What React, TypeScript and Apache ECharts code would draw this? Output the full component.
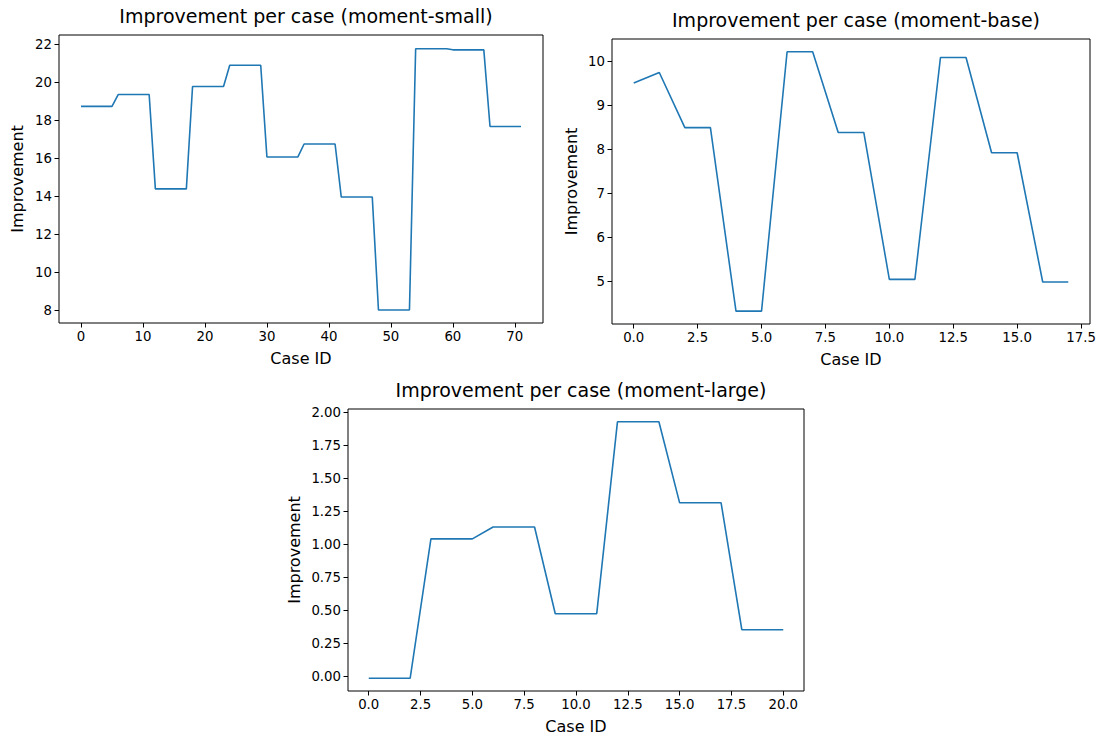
import React, { useEffect, useRef } from "react";
import * as echarts from "echarts";

// ---- Data ----
const smallValues = [
  18.74, 18.74, 18.74, 18.74, 18.74, 18.74,
  19.36, 19.36, 19.36, 19.36, 19.36, 19.36,
  14.4, 14.4, 14.4, 14.4, 14.4, 14.4,
  19.78, 19.78, 19.78, 19.78, 19.78, 19.78,
  20.9, 20.9, 20.9, 20.9, 20.9, 20.9,
  16.08, 16.08, 16.08, 16.08, 16.08, 16.08,
  16.76, 16.76, 16.76, 16.76, 16.76, 16.76,
  13.97, 13.97, 13.97, 13.97, 13.97, 13.97,
  8.03, 8.03, 8.03, 8.03, 8.03, 8.03,
  21.77, 21.77, 21.77, 21.77, 21.77, 21.77,
  21.71, 21.71, 21.71, 21.71, 21.71, 21.71,
  17.68, 17.68, 17.68, 17.68, 17.68, 17.68,
];
const baseValues = [
  9.5, 9.74, 8.49, 8.49, 4.33, 4.33, 10.21, 10.21, 8.38, 8.38,
  5.05, 5.05, 10.08, 10.08, 7.92, 7.92, 4.99, 4.99,
];
const largeValues = [
  -0.014, -0.014, -0.014, 1.04, 1.04, 1.04, 1.13, 1.13, 1.13, 0.474,
  0.474, 0.474, 1.926, 1.926, 1.926, 1.313, 1.313, 1.313, 0.353, 0.353, 0.353,
];

const smallXTicks = [0, 10, 20, 30, 40, 50, 60, 70];
const smallYTicks = [8, 10, 12, 14, 16, 18, 20, 22];
const baseXTicks = [0, 2.5, 5, 7.5, 10, 12.5, 15, 17.5];
const baseYTicks = [5, 6, 7, 8, 9, 10];
const largeXTicks = [0, 2.5, 5, 7.5, 10, 12.5, 15, 17.5, 20];
const largeYTicks = [0, 0.25, 0.5, 0.75, 1, 1.25, 1.5, 1.75, 2];

const titles = [
  "Improvement per case (moment-small)",
  "Improvement per case (moment-base)",
  "Improvement per case (moment-large)",
];

const FONT = "DejaVu Sans";
const TICK_FS = 13.3;
const NAME_FS = 16;
const TITLE_FS = 19;

function xAxisCfg(idx: number, min: number, max: number, ticks: number[], dec: number) {
  return {
    type: "value",
    gridIndex: idx,
    min,
    max,
    name: "Case ID",
    nameLocation: "middle",
    nameGap: 27,
    nameTextStyle: { fontFamily: FONT, fontSize: NAME_FS, color: "#000" },
    axisLine: { show: false, onZero: false },
    splitLine: { show: false },
    axisTick: {
      show: true,
      length: 4.5,
      customValues: ticks,
      lineStyle: { color: "#000", width: 1 },
    },
    axisLabel: {
      customValues: ticks,
      margin: 7,
      fontFamily: FONT,
      fontSize: TICK_FS,
      color: "#000",
      formatter: (v: number) => v.toFixed(dec),
    },
  };
}

function yAxisCfg(idx: number, min: number, max: number, ticks: number[], dec: number, gap: number) {
  return {
    type: "value",
    gridIndex: idx,
    min,
    max,
    name: "Improvement",
    nameLocation: "middle",
    nameGap: gap,
    nameTextStyle: { fontFamily: FONT, fontSize: NAME_FS, color: "#000" },
    axisLine: { show: false, onZero: false },
    splitLine: { show: false },
    axisTick: {
      show: true,
      length: 4.5,
      customValues: ticks,
      lineStyle: { color: "#000", width: 1 },
    },
    axisLabel: {
      customValues: ticks,
      margin: 7,
      fontFamily: FONT,
      fontSize: TICK_FS,
      color: "#000",
      formatter: (v: number) => v.toFixed(dec),
    },
  };
}

export default function App() {
  const ref = useRef<HTMLDivElement>(null);
  useEffect(() => {
    if (!ref.current) return;
    const chart = echarts.init(ref.current, null, { renderer: "svg" });
    const gridStyle = { show: true, borderColor: "#000", borderWidth: 1, containLabel: false };
    const grids = [
      { left: 59, top: 35, width: 484, height: 288, ...gridStyle },
      { left: 612, top: 39, width: 478, height: 285, ...gridStyle },
      { left: 348, top: 409, width: 456, height: 282, ...gridStyle },
    ];
    const lineStyle = { color: "#1f77b4", width: 1.6 };
    const mk = (vals: number[]) => vals.map((v, i) => [i, v]);
    const titleStyle = { fontFamily: FONT, fontSize: TITLE_FS, fontWeight: "normal", color: "#000" };
    chart.setOption({
      animation: false,
      backgroundColor: "#fff",
      title: [
        { text: titles[0], left: 301, top: 1, textAlign: "center", textStyle: titleStyle },
        { text: titles[1], left: 851, top: 5, textAlign: "center", textStyle: titleStyle },
        { text: titles[2], left: 576, top: 375, textAlign: "center", textStyle: titleStyle },
      ],
      grid: grids,
      xAxis: [
        xAxisCfg(0, -3.55, 74.55, smallXTicks, 0),
        xAxisCfg(1, -0.85, 17.85, baseXTicks, 1),
        xAxisCfg(2, -1, 21, largeXTicks, 1),
      ],
      yAxis: [
        yAxisCfg(0, 7.35, 22.49, smallYTicks, 0, 34),
        yAxisCfg(1, 4.037, 10.5, baseYTicks, 0, 33),
        yAxisCfg(2, -0.111, 2.023, largeYTicks, 2, 46),
      ],
      series: [
        { type: "line", xAxisIndex: 0, yAxisIndex: 0, data: mk(smallValues), showSymbol: false, symbol: "none", lineStyle },
        { type: "line", xAxisIndex: 1, yAxisIndex: 1, data: mk(baseValues), showSymbol: false, symbol: "none", lineStyle },
        { type: "line", xAxisIndex: 2, yAxisIndex: 2, data: mk(largeValues), showSymbol: false, symbol: "none", lineStyle },
      ],
    });
    return () => chart.dispose();
  }, []);
  return (
    <div
      ref={ref}
      style={{ position: "fixed", left: 0, top: 0, width: 1099, height: 736, background: "#fff" }}
    />
  );
}
